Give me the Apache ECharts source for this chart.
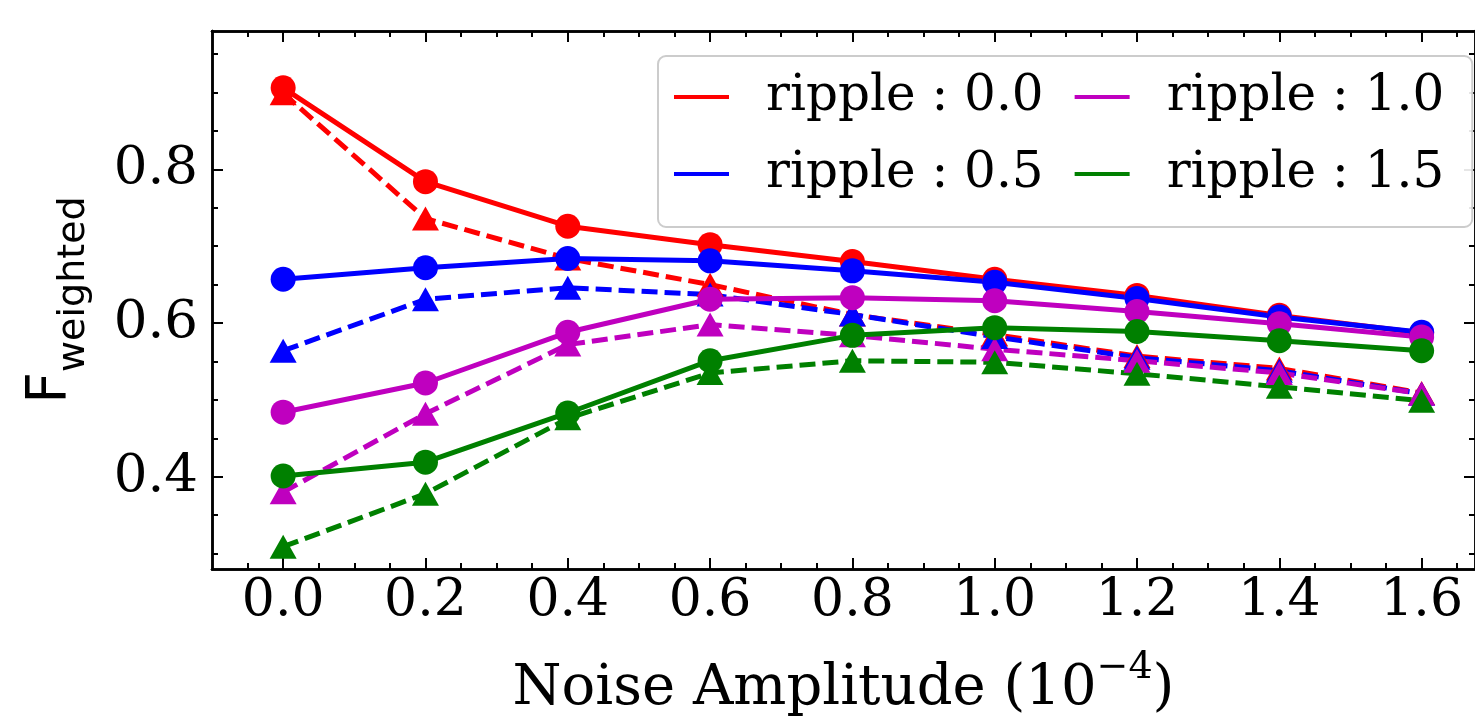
<!DOCTYPE html>
<html>
<head>
<meta charset="utf-8">
<script src="https://cdn.jsdelivr.net/npm/echarts@6/dist/echarts.min.js"></script>
<style>
  html, body { margin: 0; padding: 0; background: #fff; }
  #chart { width: 1475px; height: 722px; }
</style>
</head>
<body>
<div id="chart"></div>
<script>
// noise amplitude (1e-4)
const noise = [0.0, 0.2, 0.4, 0.6, 0.8, 1.0, 1.2, 1.4, 1.6];

// solid lines, circle markers
const solid00 = [0.906, 0.784, 0.726, 0.702, 0.680, 0.657, 0.636, 0.610, 0.587];
const solid05 = [0.657, 0.672, 0.684, 0.681, 0.668, 0.653, 0.632, 0.608, 0.588];
const solid10 = [0.484, 0.522, 0.588, 0.631, 0.633, 0.629, 0.615, 0.599, 0.582];
const solid15 = [0.401, 0.419, 0.483, 0.551, 0.584, 0.594, 0.589, 0.577, 0.564];

// dashed lines, triangle markers
const dashed00 = [0.899, 0.736, 0.684, 0.650, 0.611, 0.585, 0.557, 0.541, 0.509];
const dashed05 = [0.564, 0.631, 0.646, 0.637, 0.611, 0.582, 0.555, 0.538, 0.508];
const dashed10 = [0.380, 0.482, 0.572, 0.598, 0.584, 0.566, 0.551, 0.535, 0.508];
const dashed15 = [0.309, 0.378, 0.476, 0.535, 0.551, 0.549, 0.534, 0.517, 0.499];

const ripples = ['ripple : 0.0', 'ripple : 0.5', 'ripple : 1.0', 'ripple : 1.5'];
const colors = ['#ff0000', '#0000ff', '#bf00bf', '#008000'];

const xMajor = [0.0, 0.2, 0.4, 0.6, 0.8, 1.0, 1.2, 1.4, 1.6];
const xMinor = [-0.05, 0.05, 0.1, 0.15, 0.25, 0.3, 0.35, 0.45, 0.5, 0.55, 0.65, 0.7, 0.75,
  0.85, 0.9, 0.95, 1.05, 1.1, 1.15, 1.25, 1.3, 1.35, 1.45, 1.5, 1.55, 1.65];
const yMajor = [0.4, 0.6, 0.8];
const yMinor = [0.3, 0.35, 0.45, 0.5, 0.55, 0.65, 0.7, 0.75, 0.85, 0.9, 0.95];

const SERIF = 'DejaVu Serif';
const X_MIN = -0.1, X_MAX = 1.675, Y_MIN = 0.28, Y_MAX = 0.98;

const chart = echarts.init(document.getElementById('chart'));

function tickAxis(pos, values, len, opts) {
  const vertical = pos === 'left' || pos === 'right';
  return Object.assign({
    type: 'value', position: pos,
    min: vertical ? Y_MIN : X_MIN,
    max: vertical ? Y_MAX : X_MAX,
    axisLine: { show: true, onZero: false, lineStyle: { color: '#000', width: 2.5 } },
    axisTick: { show: true, inside: true, length: len, customValues: values, lineStyle: { color: '#000', width: 2 } },
    axisLabel: { show: false },
    splitLine: { show: false }
  }, opts || {});
}

const pairs = arr => arr.map((v, i) => [noise[i], v]);
const solids = [solid00, solid05, solid10, solid15];
const dashes = [dashed00, dashed05, dashed10, dashed15];

const series = [];
ripples.forEach((name, k) => {
  series.push({
    name: name + ' (dashed)', type: 'line', data: pairs(dashes[k]),
    symbol: 'triangle', symbolSize: [27, 24], showSymbol: true,
    itemStyle: { color: colors[k] },
    lineStyle: { color: colors[k], width: 5, type: [16, 7] },
    emphasis: { disabled: true }
  });
  series.push({
    name: name, type: 'line', data: pairs(solids[k]),
    symbol: 'circle', symbolSize: 25, showSymbol: true,
    itemStyle: { color: colors[k] },
    lineStyle: { color: colors[k], width: 5 },
    emphasis: { disabled: true }
  });
});

chart.setOption({
  animation: false,
  backgroundColor: '#fff',
  grid: { left: 212, top: 31, right: -3, bottom: 153, containLabel: false },
  legend: {
    data: ['ripple : 0.0', 'ripple : 1.0', 'ripple : 0.5', 'ripple : 1.5'],
    left: 658, top: 56, width: 900,
    orient: 'horizontal',
    icon: 'rect', itemWidth: 55, itemHeight: 4, itemGap: 15,
    padding: [10, 12, 22, 16],
    backgroundColor: 'rgba(255,255,255,0.9)',
    borderColor: '#cccccc', borderWidth: 2, borderRadius: 8,
    textStyle: { fontFamily: SERIF, fontSize: 50, color: '#000', lineHeight: 62, padding: [0, 16, 0, 32] },
    selectedMode: false
  },
  xAxis: [
    tickAxis('bottom', xMajor, 11, {
      axisLabel: {
        show: true, customValues: xMajor, margin: 6, align: 'center',
        formatter: v => v.toFixed(1),
        fontFamily: SERIF, fontSize: 52, color: '#000'
      },
      name: '{a|Noise Amplitude (10}{s|−4}{a|)}',
      nameLocation: 'middle', nameGap: 80,
      nameTextStyle: {
        rich: {
          a: { fontFamily: SERIF, fontSize: 56, color: '#000', lineHeight: 68, verticalAlign: 'bottom' },
          s: { fontFamily: SERIF, fontSize: 38, color: '#000', lineHeight: 68, verticalAlign: 'top' }
        }
      }
    }),
    tickAxis('bottom', xMinor, 6),
    tickAxis('top', xMajor, 11),
    tickAxis('top', xMinor, 6)
  ],
  yAxis: [
    tickAxis('left', yMajor, 11, {
      axisLabel: {
        show: true, customValues: yMajor, margin: 14,
        formatter: v => v.toFixed(1),
        fontFamily: SERIF, fontSize: 53, color: '#000'
      },
      name: '{F|F}{w|weighted}',
      nameLocation: 'middle', nameRotate: 90, nameGap: 119,
      nameTextStyle: {
        rich: {
          F: { fontFamily: 'DejaVu Sans', fontSize: 55, color: '#000', lineHeight: 70, verticalAlign: 'top' },
          w: { fontFamily: 'DejaVu Sans', fontSize: 38, color: '#000', lineHeight: 70, verticalAlign: 'bottom' }
        }
      }
    }),
    tickAxis('left', yMinor, 6),
    tickAxis('right', yMajor, 11),
    tickAxis('right', yMinor, 6)
  ],
  series: series
});
</script>
</body>
</html>
